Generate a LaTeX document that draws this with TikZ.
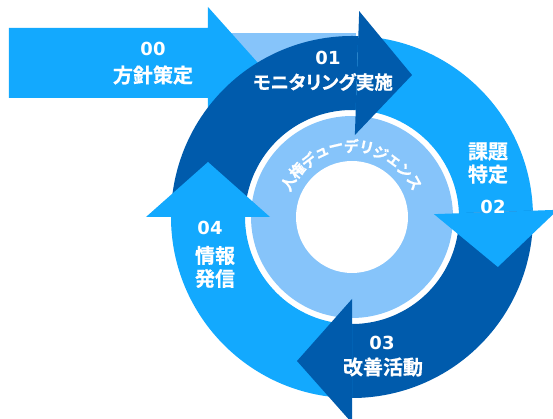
\documentclass[tikz,border=0pt]{standalone}
\usepackage{fontspec}
\setmainfont{Noto Sans CJK JP}[BoldFont={Noto Sans CJK JP Bold},BoldFeatures={FakeBold=0.6}]
\newfontfamily\kanafont{Noto Sans CJK JP}[BoldFont={Noto Sans CJK JP Bold},BoldFeatures={FakeBold=0.6},RawFeature=+palt]
\newfontfamily\numfont{DejaVu Sans}
\usetikzlibrary{calc}
\definecolor{cyclelight}{RGB}{19,169,254}
\definecolor{cycledark}{RGB}{0,91,172}
\definecolor{cyclepale}{RGB}{134,196,250}
\tikzset{
  numtext/.style={text=white,inner sep=0pt,font=\numfont\bfseries\fontsize{18}{18}\selectfont},
  steptext/.style={text=white,inner sep=0pt,align=center,font=\bfseries\fontsize{20}{23}\selectfont},
  ringtext/.style={text=white,inner sep=0pt,font=\bfseries\fontsize{15}{15}\selectfont},
}

\begin{document}
\begin{tikzpicture}[x=1pt,y=1pt]
\useasboundingbox (-352,-202) rectangle (201,217);
\fill[cyclepale] (-125,120) rectangle (4,184);
\fill[cyclelight] (-343,119) -- (-144,119) -- (-144,98) -- (-94,154) -- (-144,210) -- (-144,189) -- (-343,189) -- cycle;
\fill[cyclepale] (0,0) circle (101);
\fill[white] (0,0) circle (56);

\fill[cycledark] (180:181) arc[start angle=180,end angle=88,radius=181] -- (88:107) arc[start angle=88,end angle=180,radius=107] -- cycle;
\fill[cyclelight] (88:181) arc[start angle=88,end angle=2,radius=181] -- (2:107) arc[start angle=2,end angle=88,radius=107] -- cycle;
\fill[cycledark] (2:181) arc[start angle=2,end angle=-90,radius=181] -- (-90:107) arc[start angle=-90,end angle=2,radius=107] -- cycle;
\fill[cyclelight] (-90:181) arc[start angle=-90,end angle=-180,radius=181] -- (-180:107) arc[start angle=-180,end angle=-90,radius=107] -- cycle;

\fill[cycledark] (88:82) -- (88:206) -- ($(88:144)+(-2:55)$) -- cycle;
\fill[cyclelight] (2:82) -- (2:206) -- ($(2:144)+(-88:55)$) -- cycle;
\fill[cycledark] (-90:82) -- (-90:206) -- ($(-90:144)+(180:55)$) -- cycle;
\fill[cyclelight] (180:82) -- (180:206) -- ($(180:144)+(90:55)$) -- cycle;

\node[ringtext,rotate=62] (dd1) at (152:72) {人};
\node[ringtext,rotate=49.7] (dd2) at (139.7:72) {権};
\node[ringtext,rotate=37.4] (dd3) at (127.4:71) {デ};
\node[ringtext,rotate=25.1] (dd4) at (115.1:71) {ュ};
\node[ringtext,rotate=12.8] (dd5) at (102.8:71) {ー};
\node[ringtext,rotate=0.5] (dd6) at (90.5:71) {デ};
\node[ringtext,rotate=-11.8] (dd7) at (78.2:71) {リ};
\node[ringtext,rotate=-24.1] (dd8) at (65.9:70) {ジ};
\node[ringtext,rotate=-36.4] (dd9) at (53.6:70) {ェ};
\node[ringtext,rotate=-48.7] (dd10) at (41.3:70) {ン};
\node[ringtext,rotate=-61] (dd11) at (29:71) {ス};

\node[numtext] (num00) at (-199,168) {00};
\node[steptext] (policy) at (-199,142) {方針策定};
\node[numtext] (num01) at (-24,159) {01};
\node[steptext] (monitor) at (-29,135) {\kanafont\bfseries\fontsize{18.5}{23}\selectfont モニタリング実施};
\node[steptext] (issue) at (136,54) {課題\\特定};
\node[numtext] (num02) at (141,10) {02};
\node[numtext] (num03) at (30,-126) {03};
\node[steptext] (improve) at (31,-150) {改善活動};
\node[numtext] (num04) at (-142,-11) {04};
\node[steptext] (inform) at (-137,-50) {情報\\発信};
\end{tikzpicture}
\end{document}
